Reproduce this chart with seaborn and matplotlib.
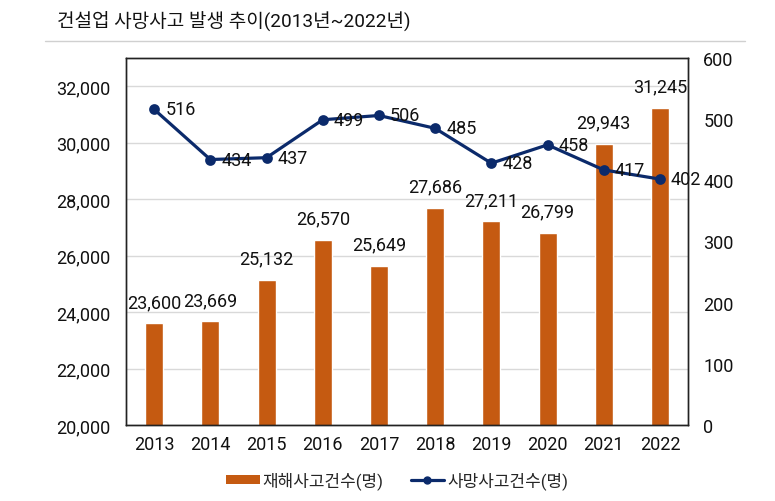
import numpy as np
import pandas as pd
import matplotlib
matplotlib.use("Agg")
import matplotlib.pyplot as plt
from matplotlib.lines import Line2D
from matplotlib.patches import Patch
from matplotlib.ticker import FuncFormatter
import seaborn as sns

sns.set_theme(style="white")
plt.rcParams['font.family'] = ['Roboto', 'Noto Sans CJK KR', 'DejaVu Sans']

# data
years = ['2013', '2014', '2015', '2016', '2017', '2018', '2019', '2020', '2021', '2022']
accidents = [23600, 23669, 25132, 26570, 25649, 27686, 27211, 26799, 29943, 31245]
deaths = [516, 434, 437, 499, 506, 485, 428, 458, 417, 402]
bar_name = '재해사고건수(명)'
line_name = '사망사고건수(명)'
title = '건설업 사망사고 발생 추이(2013년~2022년)'

bar_color = '#C55A11'
line_color = '#0B2A6B'
fs = 13

df = pd.DataFrame({'year': years, 'accidents': accidents, 'deaths': deaths})

fig = plt.figure(figsize=(7.75, 5.02), dpi=100)
ax = fig.add_axes([0.1626, 0.1514, 0.7252, 0.7311])

sns.barplot(data=df, x='year', y='accidents', color=bar_color, width=0.32,
            saturation=1, ax=ax, zorder=2)
ax.set_ylim(20000, 33000)
ax.set_yticks(np.arange(20000, 32001, 2000))
ax.yaxis.set_major_formatter(FuncFormatter(lambda v, p: f'{int(v):,}'))
ax.grid(axis='y', color='#d9d9d9', linewidth=1, zorder=0)
ax.set_axisbelow(True)
ax.set_xlabel('')
ax.set_ylabel('')
ax.tick_params(axis='both', labelsize=fs, length=0, colors='#111111')
ax.tick_params(axis='y', pad=11)
ax.tick_params(axis='x', pad=7)
ax.bar_label(ax.containers[0], labels=[f'{v:,}' for v in accidents],
             padding=9, fontsize=fs, color='#111111')

ax2 = ax.twinx()
sns.pointplot(data=df, x='year', y='deaths', color=line_color, markers='o',
              markersize=6, linewidth=2.3, ax=ax2)
ax2.set_ylim(0, 600)
ax2.set_yticks(np.arange(0, 601, 100))
ax2.set_ylabel('')
ax2.tick_params(axis='y', labelsize=fs, length=0, pad=11, colors='#111111')
for i, v in enumerate(deaths):
    ax2.annotate(str(v), (i, v), xytext=(8, 0), textcoords='offset points',
                 ha='left', va='center', fontsize=fs, color='#111111')

for a in (ax, ax2):
    for s in a.spines.values():
        s.set_color('#222222')
        s.set_linewidth(1)

fig.text(57 / 775, 1 - 21 / 502, title, fontsize=13.7, va='center', ha='left',
         color='#111111')
fig.add_artist(Line2D([45 / 775, 745 / 775], [1 - 42 / 502, 1 - 42 / 502],
                      color='#d0d0d0', linewidth=1, transform=fig.transFigure))

handles = [Patch(facecolor=bar_color, edgecolor='none', label=bar_name),
           Line2D([], [], color=line_color, marker='o', markersize=5,
                  linewidth=2.3, label=line_name)]
fig.legend(handles=handles, loc='center', bbox_to_anchor=(397 / 775, 1 - 481 / 502),
           ncol=2, frameon=False, fontsize=12.2, handlelength=2.0, handleheight=0.45,
           handletextpad=0.15, columnspacing=1.6)

fig.savefig('out.png', dpi=100)
